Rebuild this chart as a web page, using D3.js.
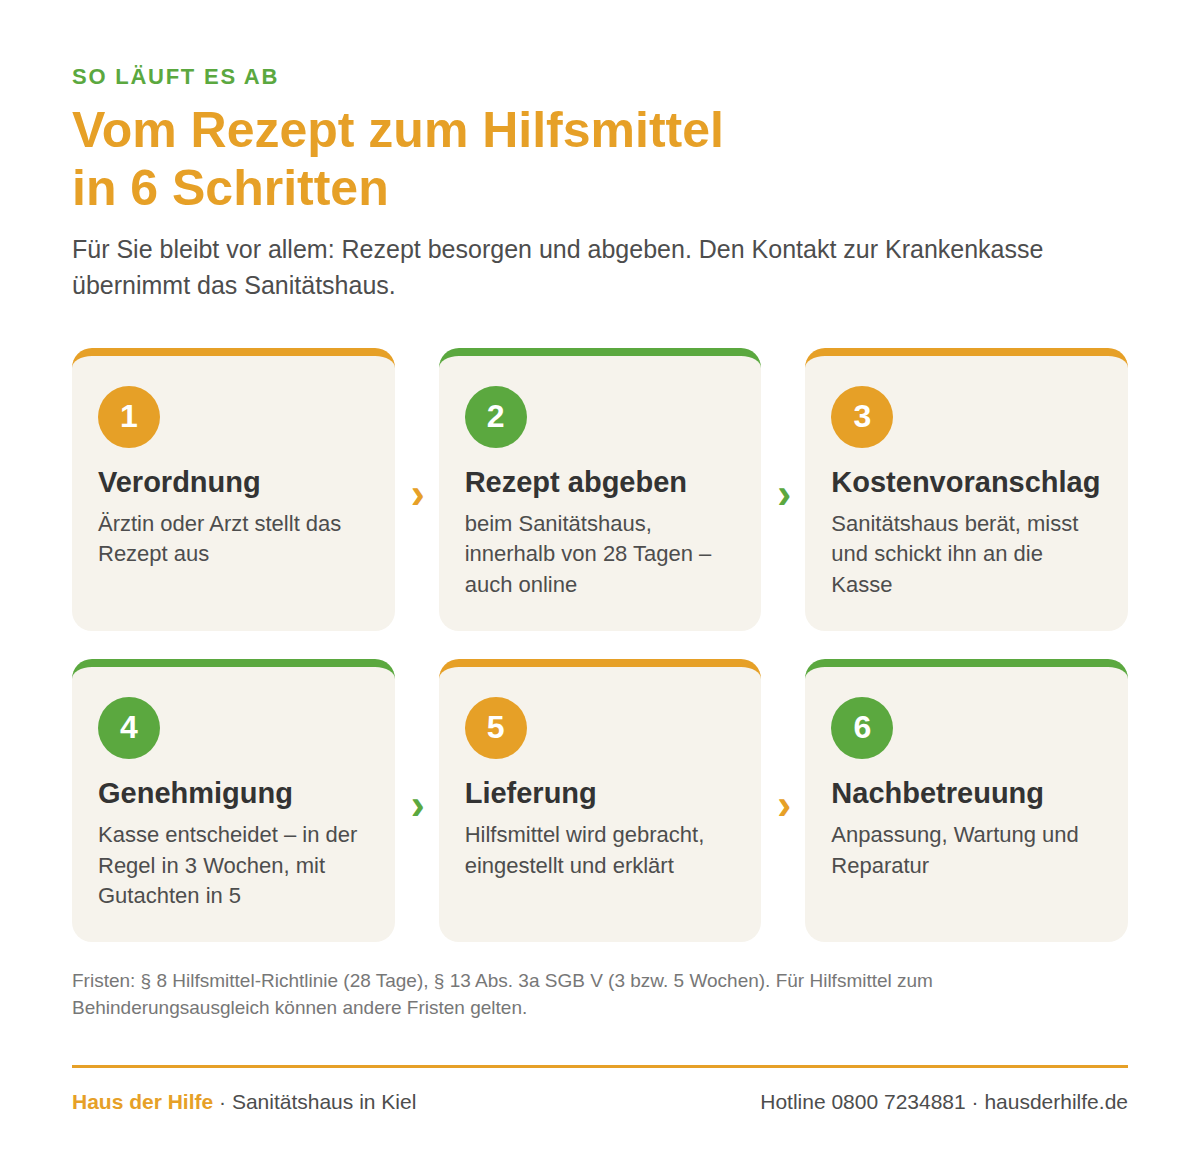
<!DOCTYPE html>
<html lang="de">
<head>
<meta charset="utf-8">
<title>Vom Rezept zum Hilfsmittel</title>
<script src="https://cdn.jsdelivr.net/npm/d3@7"></script>
<style>
    html, body { margin: 0; padding: 0; background: #fff; }
    svg { display: block; font-family: "Liberation Sans", Arial, sans-serif; }
</style>
</head>
<body>
<div id="chart"></div>
<script>
// Content
const eyebrow = "SO LÄUFT ES AB";
const titleLines = ["Vom Rezept zum Hilfsmittel", "in 6 Schritten"];
const introLines = [
    "Für Sie bleibt vor allem: Rezept besorgen und abgeben. Den Kontakt zur Krankenkasse",
    "übernimmt das Sanitätshaus."
];
const stepNumbers = [1, 2, 3, 4, 5, 6];
const stepTitles = ["Verordnung", "Rezept abgeben", "Kostenvoranschlag", "Genehmigung", "Lieferung", "Nachbetreuung"];
const stepTexts = [
    ["Ärztin oder Arzt stellt das", "Rezept aus"],
    ["beim Sanitätshaus,", "innerhalb von 28 Tagen –", "auch online"],
    ["Sanitätshaus berät, misst", "und schickt ihn an die", "Kasse"],
    ["Kasse entscheidet – in der", "Regel in 3 Wochen, mit", "Gutachten in 5"],
    ["Hilfsmittel wird gebracht,", "eingestellt und erklärt"],
    ["Anpassung, Wartung und", "Reparatur"]
];
const noteLines = [
    "Fristen: § 8 Hilfsmittel-Richtlinie (28 Tage), § 13 Abs. 3a SGB V (3 bzw. 5 Wochen). Für Hilfsmittel zum",
    "Behinderungsausgleich können andere Fristen gelten."
];
const brand = "Haus der Hilfe";
const brandRest = " · Sanitätshaus in Kiel";
const contact = "Hotline 0800 7234881 · hausderhilfe.de";

const orange = "#e6a027";
const green = "#5ba83f";
const cardFill = "#f6f3ec";
const headColor = "#333333";
const textColor = "#4d4d4d";
const noteColor = "#777777";

const width = 1200;
const height = 1162;
const svg = d3.select("#chart")
    .append("svg")
    .attr("width", width)
    .attr("height", height);

// Heading block
svg.append("text")
    .attr("x", 72).attr("y", 84)
    .attr("fill", green)
    .style("font-size", "22px")
    .style("font-weight", 700)
    .style("letter-spacing", "1.76px")
    .text(eyebrow);

svg.selectAll(".title")
    .data(titleLines)
    .enter()
    .append("text")
    .attr("class", "title")
    .attr("x", 72)
    .attr("y", (d, i) => 147 + i * 58)
    .attr("fill", orange)
    .style("font-size", "50px")
    .style("font-weight", 700)
    .text(d => d);

svg.selectAll(".intro")
    .data(introLines)
    .enter()
    .append("text")
    .attr("class", "intro")
    .attr("x", 72)
    .attr("y", (d, i) => 258 + i * 36)
    .attr("fill", textColor)
    .style("font-size", "25px")
    .text(d => d);

// Card grid
const cardRadius = 20;
const cardBorder = 8;
const columns = [0, 1, 2];
const rows = [0, 1];

const x = d3.scaleBand()
    .domain(columns)
    .range([72, 1128])
    .paddingInner(0.12);

const y = d3.scaleBand()
    .domain(rows)
    .range([348, 942])
    .paddingInner(28 / 311);

const stepColor = i => i % 2 === 0 ? orange : green;
const cardColumn = i => i % 3;
const cardRow = i => Math.floor(i / 3);

// Boxes sit on whole pixels, text keeps the fractional column position
const snapOffset = i => Math.round(x(cardColumn(i))) - x(cardColumn(i));
const snapWidth = i => Math.round(x(cardColumn(i)) + x.bandwidth()) - Math.round(x(cardColumn(i)));

// Beige body of a card, with the curved edge a CSS border-top leaves behind
function cardBodyPath(w, h) {
    const r = cardRadius;
    const b = cardBorder;
    const p = d3.path();
    p.moveTo(0, r);
    p.bezierCurveTo(0, b + (r - b) * 0.45, r * 0.45, b, r, b);
    p.lineTo(w - r, b);
    p.bezierCurveTo(w - r * 0.45, b, w, b + (r - b) * 0.45, w, r);
    p.lineTo(w, h - r);
    p.arcTo(w, h, w - r, h, r);
    p.lineTo(r, h);
    p.arcTo(0, h, 0, h - r, r);
    p.closePath();
    return p.toString();
}

const cards = svg.selectAll(".card")
    .data(stepNumbers)
    .enter()
    .append("g")
    .attr("class", "card")
    .attr("transform", (d, i) => `translate(${x(cardColumn(i))},${y(cardRow(i))})`);

cards.append("rect")
    .attr("x", (d, i) => snapOffset(i))
    .attr("width", (d, i) => snapWidth(i))
    .attr("height", 40)
    .attr("rx", cardRadius)
    .attr("fill", (d, i) => stepColor(i));

cards.append("path")
    .attr("transform", (d, i) => `translate(${snapOffset(i)},0)`)
    .attr("d", (d, i) => cardBodyPath(snapWidth(i), y.bandwidth()))
    .attr("fill", cardFill);

cards.append("circle")
    .attr("cx", (d, i) => 57 + snapOffset(i))
    .attr("cy", 69)
    .attr("r", 31)
    .attr("fill", (d, i) => stepColor(i));

cards.append("text")
    .attr("x", 57)
    .attr("y", 79)
    .attr("text-anchor", "middle")
    .attr("fill", "#fff")
    .style("font-size", "32px")
    .style("font-weight", 700)
    .text(d => d);

cards.append("text")
    .attr("x", 26)
    .attr("y", 144)
    .attr("fill", headColor)
    .style("font-size", "29px")
    .style("font-weight", 700)
    .text((d, i) => stepTitles[i]);

// Line baselines land on whole pixels, the two rows fall slightly differently
const bodyBaseline = [183.1, 183.3];

cards.each(function(d, i) {
    d3.select(this).selectAll(".body")
        .data(stepTexts[i])
        .enter()
        .append("text")
        .attr("class", "body")
        .attr("x", 26)
        .attr("y", (t, j) => Math.floor(bodyBaseline[cardRow(i)] + j * 30.8))
        .attr("fill", textColor)
        .style("font-size", "22px")
        .text(t => t);
});

// Arrows between neighbouring cards, coloured like the card before them
svg.selectAll(".arrow")
    .data(stepNumbers.filter((d, i) => cardColumn(i) < 2))
    .enter()
    .append("text")
    .attr("class", "arrow")
    .attr("x", d => x(cardColumn(d - 1)) + x.bandwidth() + 23)
    .attr("y", d => y(cardRow(d - 1)) + 160)
    .attr("text-anchor", "middle")
    .attr("fill", d => stepColor(d - 1))
    .style("font-size", "42px")
    .style("font-weight", 700)
    .text("›");

// Footnote
svg.selectAll(".note")
    .data(noteLines)
    .enter()
    .append("text")
    .attr("class", "note")
    .attr("x", 72)
    .attr("y", (d, i) => 987 + i * 27)
    .attr("fill", noteColor)
    .style("font-size", "19px")
    .text(d => d);

// Footer
svg.append("rect")
    .attr("x", 72).attr("y", 1065)
    .attr("width", 1056).attr("height", 3)
    .attr("fill", orange);

const footer = svg.append("text")
    .attr("x", 72).attr("y", 1109)
    .attr("fill", textColor)
    .style("font-size", "21px");

footer.append("tspan")
    .attr("fill", orange)
    .style("font-weight", 700)
    .text(brand);

footer.append("tspan")
    .text(brandRest);

svg.append("text")
    .attr("x", 1128).attr("y", 1109)
    .attr("text-anchor", "end")
    .attr("fill", textColor)
    .style("font-size", "21px")
    .text(contact);
</script>
</body>
</html>
